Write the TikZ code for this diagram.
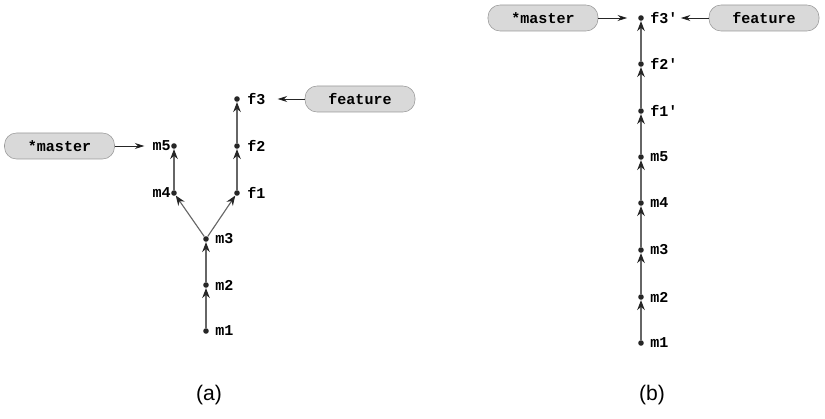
\documentclass[tikz,border=0pt]{standalone}
\usepackage{fontspec}
\setmainfont{Liberation Sans}
\setmonofont{Liberation Mono}
\usetikzlibrary{arrows.meta}

\tikzstyle{commit}= [circle,fill=black!85,inner sep=0pt,minimum size=0.14cm]
\tikzstyle{tag}= [inner sep=0pt,font=\ttfamily\bfseries\fontsize{10.7}{12}\selectfont]
\tikzstyle{branch}= [rectangle,rounded corners=0.3cm,draw=black!40,fill=black!15,minimum width=2.75cm,minimum height=0.65cm,font=\ttfamily\bfseries\fontsize{10.7}{12}\selectfont]
\tikzstyle{parent}= [draw=black!60,line width=0.8pt,-{Stealth[length=0.25cm,width=0.19cm,color=black!85]}]
\tikzstyle{pointer}= [draw=black!85,line width=0.6pt,-{Stealth[length=0.24cm,width=0.15cm]}]

\begin{document}
\begin{tikzpicture}[x=0.025cm,y=-0.025cm]
		\useasboundingbox (0,0) rectangle (825,419);

		% (a)
		\node (a1) at (206,331) [commit] {};
		\node (a1t) at (215,331) [tag,anchor=west] {m1};
		\node (a2) at (206,285) [commit] {};
		\node (a2t) at (215,285) [tag,anchor=west] {m2};
		\node (a3) at (206,239) [commit] {};
		\node (a3t) at (215,239) [tag,anchor=west] {m3};
		\node (a4) at (174,193) [commit] {};
		\node (a4t) at (171,193) [tag,anchor=east] {m4};
		\node (a5) at (174,146) [commit] {};
		\node (a5t) at (171,146) [tag,anchor=east] {m5};
		\node (af1) at (237,193) [commit] {};
		\node (af1t) at (247,193) [tag,anchor=west] {f1};
		\node (af2) at (237,146) [commit] {};
		\node (af2t) at (247,146) [tag,anchor=west] {f2};
		\node (af3) at (237,99) [commit] {};
		\node (af3t) at (247,99) [tag,anchor=west] {f3};

		\node (amaster) at (59.5,146) [branch] {*master};
		\node (afeature) at (360,99) [branch] {feature};

		\path[parent] (a1) edge[] node {} (a2);
		\path[parent] (a2) edge[] node {} (a3);
		\path[parent] (a3) edge[] node {} (a4);
		\path[parent] (a4) edge[] node {} (a5);
		\path[parent] (a3) edge[] node {} (af1);
		\path[parent] (af1) edge[] node {} (af2);
		\path[parent] (af2) edge[] node {} (af3);

		\path[pointer] (amaster) edge[shorten >=0.2cm] node {} (a5t);
		\path[pointer] (afeature) edge[shorten >=0.3cm] node {} (af3t);

		% (b)
		\node (b1) at (641,343) [commit] {};
		\node (b1t) at (650,343) [tag,anchor=west] {m1};
		\node (b2) at (641,297) [commit] {};
		\node (b2t) at (650,297) [tag,anchor=west] {m2};
		\node (b3) at (641,250) [commit] {};
		\node (b3t) at (650,250) [tag,anchor=west] {m3};
		\node (b4) at (641,203) [commit] {};
		\node (b4t) at (650,203) [tag,anchor=west] {m4};
		\node (b5) at (641,157) [commit] {};
		\node (b5t) at (650,157) [tag,anchor=west] {m5};
		\node (bf1) at (641,111) [commit] {};
		\node (bf1t) at (650,111) [tag,anchor=west] {f1'};
		\node (bf2) at (641,64) [commit] {};
		\node (bf2t) at (650,64) [tag,anchor=west] {f2'};
		\node (bf3) at (641,18) [commit] {};
		\node (bf3t) at (650,18) [tag,anchor=west] {f3'};

		\node (bmaster) at (543,18) [branch] {*master};
		\node (bfeature) at (764,18) [branch] {feature};

		\path[parent] (b1) edge[] node {} (b2);
		\path[parent] (b2) edge[] node {} (b3);
		\path[parent] (b3) edge[] node {} (b4);
		\path[parent] (b4) edge[] node {} (b5);
		\path[parent] (b5) edge[] node {} (bf1);
		\path[parent] (bf1) edge[] node {} (bf2);
		\path[parent] (bf2) edge[] node {} (bf3);

		\path[pointer] (bmaster) edge[shorten >=0.27cm] node {} (bf3);
		\path[pointer] (bfeature) edge[shorten >=0.08cm] node {} (bf3t);

		\node (capa) at (209,395) [font=\fontsize{15}{18}\selectfont] {(a)};
		\node (capb) at (652,395) [font=\fontsize{15}{18}\selectfont] {(b)};
\end{tikzpicture}
\end{document}
